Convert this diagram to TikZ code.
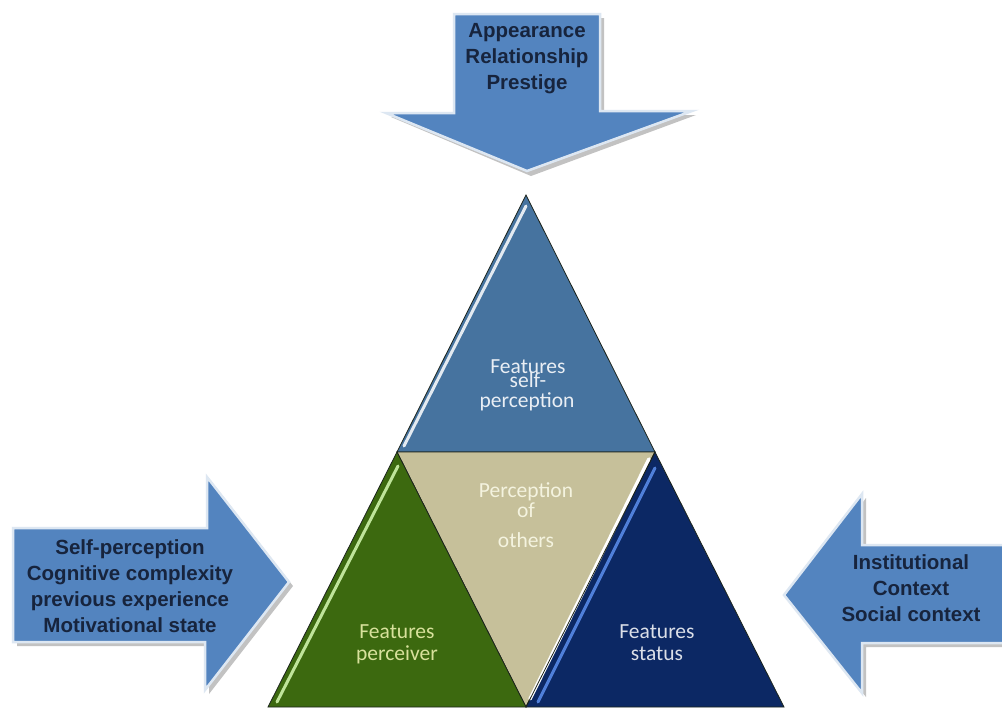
\documentclass[tikz,border=0pt]{standalone}
\usepackage{fontspec}
\setmainfont{Liberation Sans}
\newfontfamily\calib{Carlito}
\definecolor{arrowfill}{HTML}{5384BF}
\definecolor{arrowedge}{HTML}{DDE7F2}
\definecolor{arrowshadow}{HTML}{9A9A9A}
\definecolor{arrowtext}{HTML}{17243D}
\definecolor{topblue}{HTML}{46739F}
\definecolor{tan}{HTML}{C6C09A}
\definecolor{leafgreen}{HTML}{3C690F}
\definecolor{navy}{HTML}{0C2864}
\definecolor{edgedark}{HTML}{1C241C}
\definecolor{navyglow}{HTML}{4F7FD9}
\definecolor{greenglow}{HTML}{BFE49A}
\begin{document}
\begin{tikzpicture}[x=1pt,y=-1pt,
  bigarrow/.style={fill=arrowfill,draw=arrowedge,line width=2.5pt,line join=miter},
  arrowshade/.style={fill=arrowshadow,opacity=0.6},
  arrowlabel/.style={font=\bfseries\fontsize{20.5}{26}\selectfont,text=arrowtext,align=center,inner sep=0pt},
  tri/.style={draw=edgedark,line width=0.8pt,line join=miter},
  trilabel/.style={font=\calib\fontsize{21.5}{22}\selectfont,anchor=base,inner sep=0pt},
  gloss/.style={line width=3pt,line cap=round}]
\useasboundingbox (0,0) rectangle (1002,713);
\fill[white] (0,0) rectangle (1002,713);

% ---------- top arrow ----------
\fill[arrowshade] (458,18) -- (604,18) -- (604,115) -- (696,115) -- (531,176) -- (391,117) -- (458,117) -- cycle;
\path[bigarrow] (454,14) -- (600,14) -- (600,111) -- (692,111) -- (527,171) -- (386,113) -- (454,113) -- cycle;
\node[arrowlabel] (toptext) at (527,59) {Appearance\\Relationship\\Prestige};

% ---------- left arrow ----------
\fill[arrowshade] (17,532) -- (211,532) -- (211,481) -- (293,586) -- (209,694) -- (209,646) -- (17,646) -- cycle;
\path[bigarrow] (13,528) -- (207,528) -- (207,477) -- (289,582) -- (205,690) -- (205,642) -- (13,642) -- cycle;
\node[arrowlabel] (lefttext) at (130,586) {Self-perception\\Cognitive complexity\\previous experience\\Motivational state};

% ---------- right arrow ----------
\fill[arrowshade] (1010,549) -- (866,549) -- (866,498) -- (788,599) -- (866,697) -- (866,647) -- (1010,647) -- cycle;
\path[bigarrow] (1010,545) -- (862,545) -- (862,494) -- (784,595) -- (862,693) -- (862,643) -- (1010,643) -- cycle;
\node[arrowlabel] (righttext) at (911,588) {Institutional\\Context\\Social context};

% ---------- triangles ----------
\coordinate (apex) at (526,195);
\coordinate (ml) at (397,452);
\coordinate (mr) at (655,452);
\coordinate (bl) at (268,707);
\coordinate (bm) at (526,707);
\coordinate (br) at (784,707);

\path[tri,fill=topblue] (apex) -- (mr) -- (ml) -- cycle;
\path[tri,fill=tan] (ml) -- (mr) -- (bm) -- cycle;
\path[tri,fill=leafgreen] (ml) -- (bm) -- (bl) -- cycle;
\path[tri,fill=navy] (mr) -- (br) -- (bm) -- cycle;

% glossy highlights
\draw[gloss,draw=white!85!topblue] (526,206) -- (404,446);
\draw[gloss,draw=greenglow] (398,466) -- (277,702);
\draw[gloss,draw=white,line width=3.5pt] (649,459) -- (530,699);
\draw[gloss,draw=navyglow] (655,468) -- (538,702);
\draw[edgedark,line width=0.8pt] (mr) -- (bm);

% ---------- triangle labels ----------
\node[trilabel,text=white!88!topblue] (f1) at (528,373) {Features};
\node[trilabel,text=white!88!topblue] (f2) at (528,387) {self-};
\node[trilabel,text=white!88!topblue] (f3) at (527,407) {perception};

\node[trilabel,text=white!80!tan!95!yellow] (p1) at (526,497) {Perception};
\node[trilabel,text=white!80!tan!95!yellow] (p2) at (526,517) {of};
\node[trilabel,text=white!80!tan!95!yellow] (p3) at (526,547) {others};

\node[trilabel,text=white!75!leafgreen!80!yellow] (g1) at (397,638) {Features};
\node[trilabel,text=white!75!leafgreen!80!yellow] (g2) at (397,660) {perceiver};

\node[trilabel,text=white!85!navy] (n1) at (657,638) {Features};
\node[trilabel,text=white!85!navy] (n2) at (657,660) {status};
\end{tikzpicture}
\end{document}
